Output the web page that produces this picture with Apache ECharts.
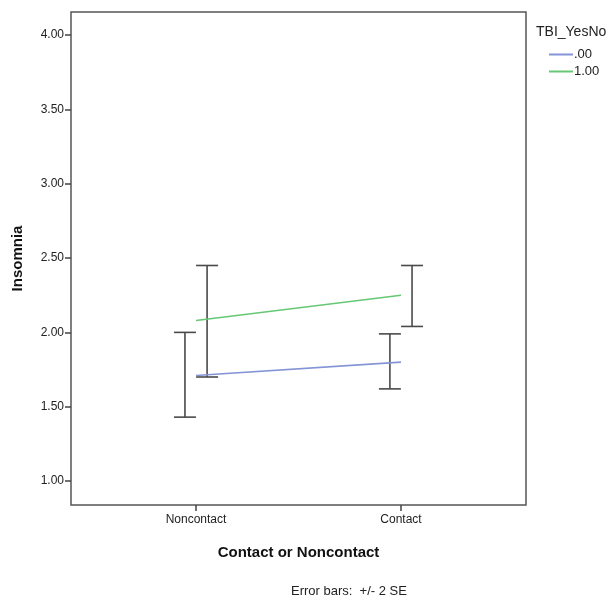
<!DOCTYPE html>
<html>
<head>
<meta charset="utf-8">
<script src="https://cdn.jsdelivr.net/npm/echarts@6/dist/echarts.min.js"></script>
<style>
  html, body { margin: 0; padding: 0; background: #fff; }
  #chart { width: 609px; height: 602px; }
</style>
</head>
<body>
<div id="chart"></div>
<script>
// Data
const categories = ["Noncontact", "Contact"];
const groups = [".00", "1.00"];
const means00 = [1.71, 1.80];
const means100 = [2.08, 2.25];
const lower00 = [1.43, 1.62];
const upper00 = [2.00, 1.99];
const lower100 = [1.70, 2.04];
const upper100 = [2.45, 2.45];
const yTicks = [1.0, 1.5, 2.0, 2.5, 3.0, 3.5, 4.0];

const colors = ["#8494d6", "#66c874"];
const dodge = 0.054; // error bars sit a little left/right of the category

const chartDom = document.getElementById("chart");
const myChart = echarts.init(chartDom);

const font = "Arial, 'Liberation Sans', sans-serif";

// error bar series built from lower/upper arrays
function errorBars(name, lower, upper, offset) {
  return {
    name: name + " err",
    type: "custom",
    silent: true,
    data: categories.map((c, i) => [i + offset, lower[i], upper[i]]),
    renderItem: function (params, api) {
      const x = api.value(0);
      const lo = api.coord([x, api.value(1)]);
      const hi = api.coord([x, api.value(2)]);
      const half = 11;
      const style = { stroke: "#4a4a4a", lineWidth: 1.6 };
      return {
        type: "group",
        children: [
          { type: "line", shape: { x1: lo[0], y1: lo[1], x2: hi[0], y2: hi[1] }, style: style },
          { type: "line", shape: { x1: hi[0] - half, y1: hi[1], x2: hi[0] + half, y2: hi[1] }, style: style },
          { type: "line", shape: { x1: lo[0] - half, y1: lo[1], x2: lo[0] + half, y2: lo[1] }, style: style },
        ],
      };
    },
    z: 3,
  };
}

const option = {
  animation: false,
  title: [
    {
      text: "TBI_YesNo",
      left: 531,
      top: 20,
      textStyle: { fontFamily: font, fontSize: 14, fontWeight: "normal", color: "#222" },
    },
    {
      text: "Error bars:  +/- 2 SE",
      left: 286,
      top: 580,
      textStyle: { fontFamily: font, fontSize: 13, fontWeight: "normal", color: "#222" },
    },
  ],
  legend: {
    orient: "vertical",
    left: 544,
    top: 43,
    itemWidth: 24,
    itemHeight: 2,
    itemGap: 4,
    icon: "rect",
    data: groups,
    textStyle: { fontFamily: font, fontSize: 13, color: "#222", padding: [0, 0, 0, -4] },
  },
  grid: {
    left: 71,
    top: 12,
    width: 455,
    height: 493,
    show: true,
    borderColor: "#555",
    borderWidth: 1.5,
  },
  xAxis: {
    type: "value",
    min: -0.61,
    max: 1.61,
    splitLine: { show: false },
    axisLine: { show: false, onZero: false },
    axisTick: {
      show: true,
      length: 6,
      customValues: [0, 1],
      lineStyle: { color: "#444", width: 1.5 },
    },
    axisLabel: {
      customValues: [0, 1],
      formatter: (v) => categories[Math.round(v)],
      fontFamily: font,
      fontSize: 12,
      color: "#222",
      margin: 9,
    },
    name: "Contact or Noncontact",
    nameLocation: "middle",
    nameGap: 40,
    nameTextStyle: { fontFamily: font, fontSize: 15, fontWeight: "bold", color: "#111" },
  },
  yAxis: {
    type: "value",
    min: 0.839,
    max: 4.155,
    splitLine: { show: false },
    axisLine: { show: false, onZero: false },
    axisTick: {
      show: true,
      length: 6,
      customValues: yTicks,
      lineStyle: { color: "#444", width: 1.5 },
    },
    axisLabel: {
      customValues: yTicks,
      formatter: (v) => v.toFixed(2),
      fontFamily: font,
      fontSize: 12,
      color: "#222",
      margin: 7,
    },
    name: "Insomnia",
    nameLocation: "middle",
    nameGap: 46,
    nameTextStyle: { fontFamily: font, fontSize: 15, fontWeight: "bold", color: "#111" },
  },
  series: [
    {
      name: groups[0],
      type: "line",
      data: categories.map((c, i) => [i, means00[i]]),
      symbol: "none",
      itemStyle: { color: colors[0] },
      lineStyle: { width: 1.6, color: colors[0] },
      z: 4,
    },
    {
      name: groups[1],
      type: "line",
      data: categories.map((c, i) => [i, means100[i]]),
      symbol: "none",
      itemStyle: { color: colors[1] },
      lineStyle: { width: 1.6, color: colors[1] },
      z: 4,
    },
    errorBars(groups[0], lower00, upper00, -dodge),
    errorBars(groups[1], lower100, upper100, dodge),
  ],
};

myChart.setOption(option);

window.addEventListener("resize", () => {
  myChart.resize();
});
</script>
</body>
</html>
